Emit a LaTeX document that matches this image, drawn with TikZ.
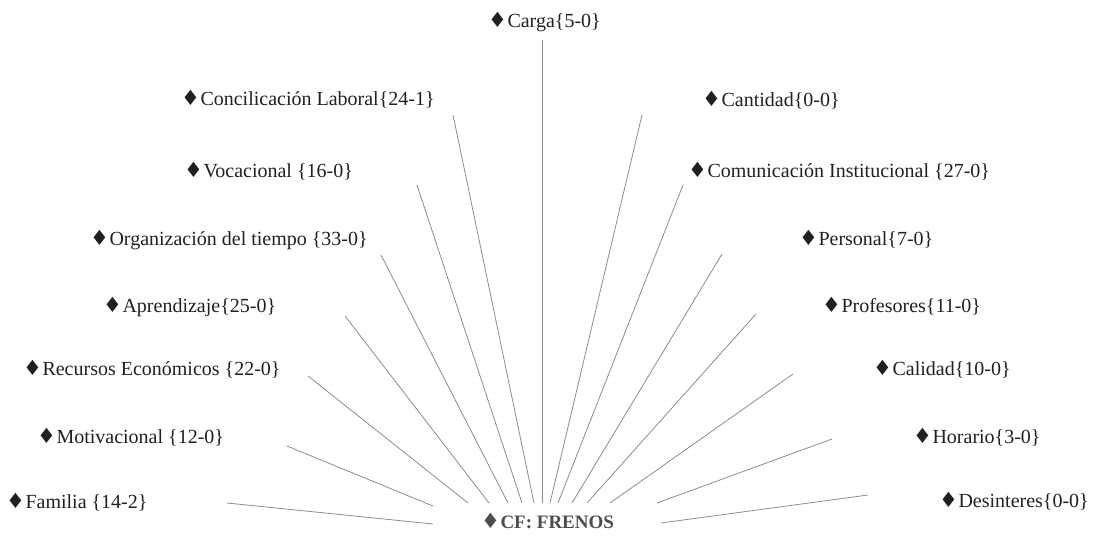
\documentclass[tikz,border=0pt]{standalone}
\usepackage{fontspec}
\setmainfont{Liberation Serif}
\newfontfamily\symfont{DejaVu Sans}
\definecolor{raygray}{HTML}{8C8C8C}
\definecolor{ink}{HTML}{231F20}
\definecolor{hubgray}{HTML}{4D4D4D}
% black diamond bullet in front of every category
\newcommand{\dm}{{\symfont\fontsize{21}{21}\selectfont ♦}\hspace{0.5pt}}
\begin{document}
\begin{tikzpicture}[x=1pt,y=-1pt,
  lbl/.style={anchor=base west, inner sep=0pt, text=ink, font=\rmfamily\fontsize{20}{24}\selectfont},
  hub/.style={anchor=base west, inner sep=0pt, text=hubgray, font=\rmfamily\fontsize{19}{24}\selectfont\bfseries},
  spoke/.style={draw=raygray, line width=0.8pt}]
\useasboundingbox (0,0) rectangle (1104,536);

% central code
\node[hub] (cf) at (481,528) {\dm CF: FRENOS};

% categories, left side
\node[lbl] (carga)  at (488,27)  {\dm Carga\{5-0\}};
\node[lbl] (conc)   at (181,105) {\dm Concilicación Laboral\{24-1\}};
\node[lbl] (voc)    at (184,177) {\dm Vocacional \{16-0\}};
\node[lbl] (org)    at (90,245)  {\dm Organización del tiempo \{33-0\}};
\node[lbl] (apr)    at (103,312) {\dm Aprendizaje\{25-0\}};
\node[lbl] (rec)    at (23,375)  {\dm Recursos Económicos \{22-0\}};
\node[lbl] (mot)    at (37,443)  {\dm Motivacional \{12-0\}};
\node[lbl] (fam)    at (6,508)   {\dm Familia \{14-2\}};

% categories, right side
\node[lbl] (cant)   at (702,106) {\dm Cantidad\{0-0\}};
\node[lbl] (com)    at (688,177) {\dm Comunicación Institucional \{27-0\}};
\node[lbl] (pers)   at (799,245) {\dm Personal\{7-0\}};
\node[lbl] (prof)   at (822,312) {\dm Profesores\{11-0\}};
\node[lbl] (cal)    at (873,375) {\dm Calidad\{10-0\}};
\node[lbl] (hor)    at (913,443) {\dm Horario\{3-0\}};
\node[lbl] (des)    at (939,507) {\dm Desinteres\{0-0\}};

% spoke ends: outer (near category) and inner (near the centre)
\coordinate (famO)  at (227,503); \coordinate (famI)  at (433,524);
\coordinate (motO)  at (287,446); \coordinate (motI)  at (433,506);
\coordinate (recO)  at (308,376); \coordinate (recI)  at (468,503);
\coordinate (aprO)  at (345,316); \coordinate (aprI)  at (489,503);
\coordinate (orgO)  at (381,255); \coordinate (orgI)  at (508,503);
\coordinate (vocO)  at (417,185); \coordinate (vocI)  at (522,503);
\coordinate (concO) at (453,115); \coordinate (concI) at (534,503);
\coordinate (cargO) at (542,40);  \coordinate (cargI) at (542,503);
\coordinate (cantO) at (642,115); \coordinate (cantI) at (550,503);
\coordinate (comO)  at (683,185); \coordinate (comI)  at (558,503);
\coordinate (persO) at (722,254); \coordinate (persI) at (572,503);
\coordinate (profO) at (756,314); \coordinate (profI) at (587,503);
\coordinate (calO)  at (793,374); \coordinate (calI)  at (610,503);
\coordinate (horO)  at (832,439); \coordinate (horI)  at (657,503);
\coordinate (desO)  at (868,495); \coordinate (desI)  at (661,523);

\foreach \s in {fam,mot,rec,apr,org,voc,conc,carg,cant,com,pers,prof,cal,hor,des}
  \draw[spoke] (\s O) -- (\s I);
\end{tikzpicture}
\end{document}
